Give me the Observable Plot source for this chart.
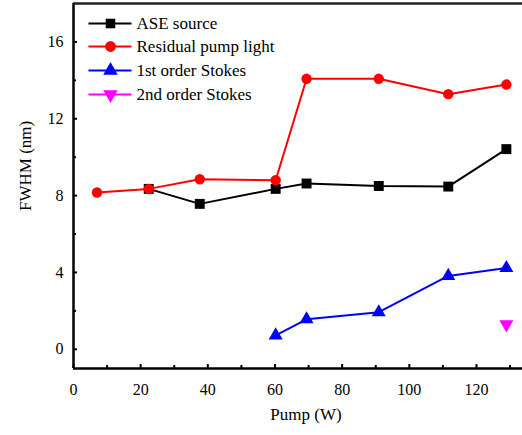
<!DOCTYPE html>
<html>
<head>
<meta charset="utf-8">
<script src="https://cdn.jsdelivr.net/npm/d3@7"></script>
<script src="https://cdn.jsdelivr.net/npm/@observablehq/plot@0.6"></script>
<style>
  html, body { margin: 0; padding: 0; background: #fff; }
</style>
</head>
<body>
<div id="chart"></div>
<script>
// ---- data ----
const asePump = [22.4, 37.6, 60.2, 69.4, 90.9, 111.6, 128.9];
const aseFwhm = [8.35, 7.57, 8.35, 8.63, 8.5, 8.47, 10.42];

const residualPump = [7.0, 22.4, 37.6, 60.2, 69.4, 90.9, 111.6, 128.9];
const residualFwhm = [8.16, 8.35, 8.85, 8.8, 14.08, 14.08, 13.28, 13.78];

const stokes1Pump = [60.2, 69.4, 90.9, 111.6, 128.9];
const stokes1Fwhm = [0.72, 1.56, 1.93, 3.82, 4.23];

const stokes2Pump = [128.9];
const stokes2Fwhm = [1.3];

const seriesNames = ["ASE source", "Residual pump light", "1st order Stokes", "2nd order Stokes"];
const seriesColors = ["#000000", "#ff0000", "#0000ff", "#ff00ff"];
const seriesSymbols = ["square", "circle", "triangle", "triangle"];
const seriesRotate = [0, 0, 0, 180];
const seriesR = [5.6, 5.2, 5.2, 5.2];

const xMajor = [0, 20, 40, 60, 80, 100, 120];
const xMinor = [10, 30, 50, 70, 90, 110, 130];
const yMajor = [0, 4, 8, 12, 16];
const yMinor = [2, 6, 10, 14];

const xLabel = "Pump (W)";
const yLabel = "FWHM (nm)";

// ---- layout ----
const W = 522, H = 435;
const mL = 73, mR = 0, mT = 3, mB = 67;
const xDomain = [0, 133.7];
const yDomain = [-1, 18];
const plotW = W - mL - mR, plotH = H - mT - mB;

const zip = (xs, ys) => xs.map((x, i) => ({x, y: ys[i]}));
const ase = zip(asePump, aseFwhm);
const residual = zip(residualPump, residualFwhm);
const stokes1 = zip(stokes1Pump, stokes1Fwhm);
const stokes2 = zip(stokes2Pump, stokes2Fwhm);

// legend placed in pixel space, converted through the same scales
const sx = Plot.scale({x: {domain: xDomain, range: [mL, W - mR]}});
const sy = Plot.scale({y: {domain: yDomain, range: [H - mB, mT]}});
const legendRowsPx = [23, 46, 70, 94];
const legend = seriesNames.map((name, i) => ({
  name,
  color: seriesColors[i],
  symbol: seriesSymbols[i],
  rotate: seriesRotate[i],
  y: sy.invert(legendRowsPx[i]),
  x1: sx.invert(88),
  x2: sx.invert(131),
  xm: sx.invert(110),
  xt: sx.invert(136)
}));

const font = "'Liberation Serif', 'Times New Roman', serif";

const chart = Plot.plot({
  width: W,
  height: H,
  marginLeft: mL,
  marginRight: mR,
  marginTop: mT,
  marginBottom: mB,
  x: {domain: xDomain},
  y: {domain: yDomain},
  style: {fontFamily: font, fontSize: "16px", background: "white", color: "black"},
  marks: [
    // tick labels
    Plot.axisX({ticks: xMajor, tickSize: 0, tickPadding: 15, label: null, fontSize: 16}),
    Plot.axisY({ticks: yMajor, tickSize: 0, tickPadding: 10, label: null, fontSize: 16}),
    // inward ticks
    Plot.tickX(xMajor, {x: d => d, insetTop: plotH - 4, stroke: "black", strokeWidth: 2}),
    Plot.tickX(xMinor, {x: d => d, insetTop: plotH - 3, stroke: "black", strokeWidth: 2}),
    Plot.tickY(yMajor, {y: d => d, insetRight: plotW - 4, stroke: "black", strokeWidth: 2}),
    Plot.tickY(yMinor, {y: d => d, insetRight: plotW - 3, stroke: "black", strokeWidth: 2}),
    // frame (left, bottom, top)
    Plot.ruleX([xDomain[0]], {stroke: "black", strokeWidth: 2.5}),
    Plot.ruleY([yDomain[0]], {stroke: "black", strokeWidth: 2.5}),
    Plot.ruleY([yDomain[1]], {stroke: "#222", strokeWidth: 2.5}),
    // axis titles
    Plot.text([xLabel], {frameAnchor: "bottom", dx: 8, dy: 51, fontSize: 17, fill: "black"}),
    Plot.text([yLabel], {frameAnchor: "left", rotate: -90, dx: -48, dy: 25, fontSize: 17, fill: "black"}),
    // series
    Plot.line(ase, {x: "x", y: "y", stroke: seriesColors[0], strokeWidth: 2}),
    Plot.dot(ase, {x: "x", y: "y", symbol: "square", r: seriesR[0], fill: seriesColors[0], stroke: "none"}),
    Plot.line(residual, {x: "x", y: "y", stroke: seriesColors[1], strokeWidth: 2}),
    Plot.dot(residual, {x: "x", y: "y", symbol: "circle", r: seriesR[1], fill: seriesColors[1], stroke: "none"}),
    Plot.line(stokes1, {x: "x", y: "y", stroke: seriesColors[2], strokeWidth: 2}),
    Plot.dot(stokes1, {x: "x", y: "y", symbol: "triangle", r: seriesR[2], fill: seriesColors[2], stroke: "none"}),
    Plot.dot(stokes2, {x: "x", y: "y", symbol: "triangle", rotate: 180, r: seriesR[3], fill: seriesColors[3], stroke: "none"}),
    // legend
    Plot.link(legend, {x1: "x1", x2: "x2", y1: "y", y2: "y", stroke: "color", strokeWidth: 2}),
    Plot.dot(legend, {x: "xm", y: "y", symbol: "symbol", rotate: "rotate", r: 5.4, fill: "color", stroke: "none"}),
    Plot.text(legend, {x: "xt", y: "y", text: "name", textAnchor: "start", fontSize: 17, fill: "black"})
  ]
});
document.getElementById("chart").appendChild(chart);
</script>
</body>
</html>
